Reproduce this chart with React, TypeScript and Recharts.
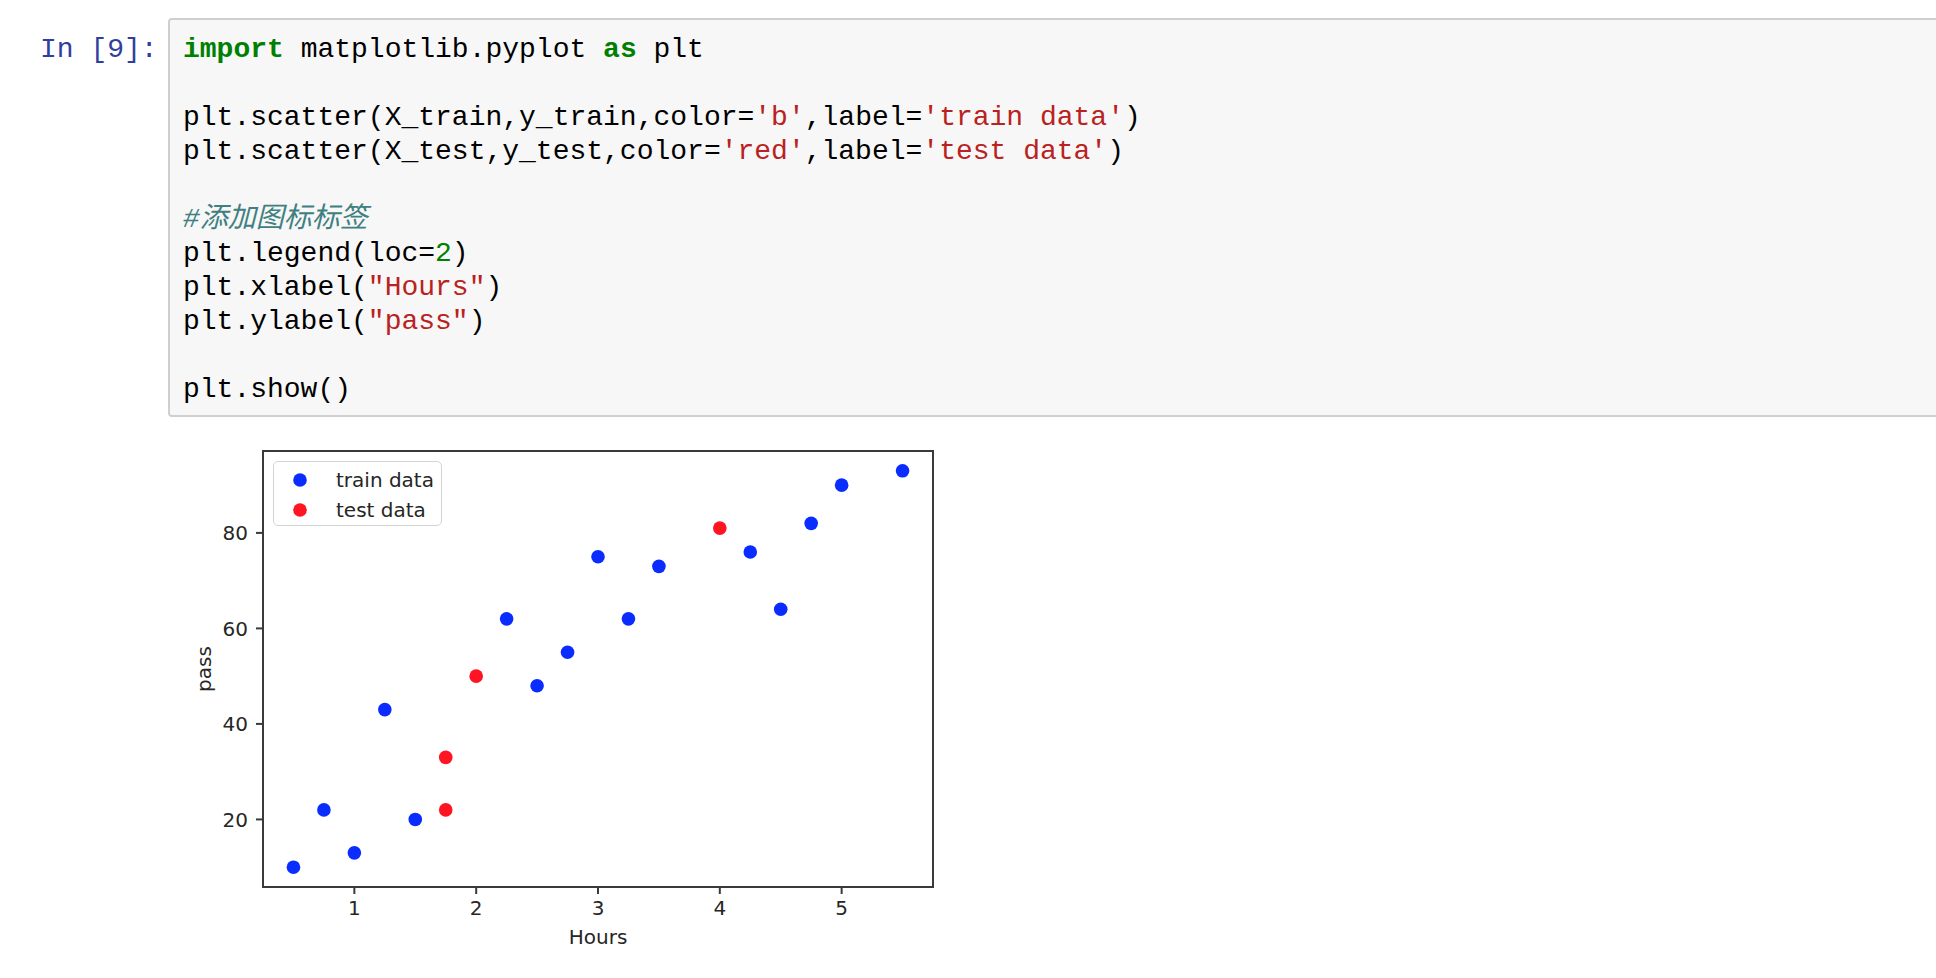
import React from 'react';
import {
  ScatterChart,
  Scatter,
  XAxis,
  YAxis,
  Legend,
  ReferenceArea,
} from 'recharts';

// data
const trainHours = [0.5, 0.75, 1, 1.25, 1.5, 2.25, 2.5, 2.75, 3, 3.25, 3.5, 4.25, 4.5, 4.75, 5, 5.5];
const trainPass = [10, 22, 13, 43, 20, 62, 48, 55, 75, 62, 73, 76, 64, 82, 90, 93];
const testHours = [1.75, 1.75, 2, 4];
const testPass = [22, 33, 50, 81];

const seriesNames = ['train data', 'test data'];
const xTicks = [1, 2, 3, 4, 5];
const yTicks = [20, 40, 60, 80];
const xDomain: [number, number] = [0.25, 5.75];
const yDomain: [number, number] = [5.85, 97.15];

const trainData = trainHours.map((h, i) => ({ hours: h, pass: trainPass[i] }));
const testData = testHours.map((h, i) => ({ hours: h, pass: testPass[i] }));

type Tok = '' | 'kw' | 'str' | 'num' | 'cm';

const codeLines: [string, Tok][][] = [
  [['import', 'kw'], [' matplotlib.pyplot ', ''], ['as', 'kw'], [' plt', '']],
  [],
  [['plt.scatter(X_train,y_train,color=', ''], ["'b'", 'str'], [',label=', ''], ["'train data'", 'str'], [')', '']],
  [['plt.scatter(X_test,y_test,color=', ''], ["'red'", 'str'], [',label=', ''], ["'test data'", 'str'], [')', '']],
  [],
  [['#添加图标标签', 'cm']],
  [['plt.legend(loc=', ''], ['2', 'num'], [')', '']],
  [['plt.xlabel(', ''], ['"Hours"', 'str'], [')', '']],
  [['plt.ylabel(', ''], ['"pass"', 'str'], [')', '']],
  [],
  [['plt.show()', '']],
];

const tokStyle: Record<Tok, React.CSSProperties> = {
  '': { color: '#000' },
  kw: { color: '#008000', fontWeight: 'bold' },
  str: { color: '#BA2121' },
  num: { color: '#008000' },
  cm: { color: '#408080', fontStyle: 'italic' },
};

const mono = '"Liberation Mono", "Noto Sans CJK SC", monospace';
const axisFont = { fontFamily: 'DejaVu Sans', fontSize: 20, fill: '#262626' };
const spine = '#3a3a3a';

function Dot(props: any) {
  return <circle cx={props.cx} cy={props.cy} r={6.8} fill={props.fill} />;
}

function LegendBox({ payload }: any) {
  const items = [...(payload || [])].sort(
    (a: any, b: any) => seriesNames.indexOf(a.value) - seriesNames.indexOf(b.value)
  );
  return (
    <div
      style={{
        width: 169,
        height: 65,
        boxSizing: 'border-box',
        border: '1.5px solid #d4d4d4',
        borderRadius: 5,
        background: 'rgba(255,255,255,0.8)',
        position: 'relative',
        fontFamily: 'DejaVu Sans',
        fontSize: 20,
        color: '#262626',
      }}
    >
      {items.map((p: any, i: number) => (
        <div
          key={p.value}
          style={{ position: 'absolute', left: 0, top: 3 + i * 29.7, height: 30, display: 'flex', alignItems: 'center' }}
        >
          <svg width={62} height={30}>
            <circle cx={26} cy={15} r={6.8} fill={p.color ?? p.payload?.fill} />
          </svg>
          <span>{p.value}</span>
        </div>
      ))}
    </div>
  );
}

export default function App() {
  return (
    <div
      style={{
        position: 'absolute',
        left: 0,
        top: 0,
        width: 1936,
        height: 978,
        overflow: 'hidden',
        background: '#fff',
      }}
    >
      <div
        style={{
          position: 'absolute',
          left: 40,
          top: 33,
          fontFamily: mono,
          fontSize: 28,
          lineHeight: '34px',
          color: '#303F9F',
          whiteSpace: 'pre',
        }}
      >
        In [9]:
      </div>
      <div
        style={{
          position: 'absolute',
          left: 168,
          top: 18,
          width: 1800,
          height: 399,
          boxSizing: 'border-box',
          border: '2px solid #cfcfcf',
          borderRadius: 4,
          background: '#f7f7f7',
        }}
      />
      <div style={{ position: 'absolute', left: 183, top: 33, fontFamily: mono, fontSize: 28 }}>
        {codeLines.map((line, i) => (
          <div key={i} style={{ height: 34, lineHeight: '34px', whiteSpace: 'pre' }}>
            {line.length === 0
              ? ' '
              : line.map(([t, k], j) => (
                  <span key={j} style={tokStyle[k]}>
                    {t}
                  </span>
                ))}
          </div>
        ))}
      </div>

      <div style={{ position: 'absolute', left: 150, top: 430 }}>
        <ScatterChart width={800} height={540} margin={{ top: 21, right: 17, bottom: 23, left: 0 }}>
          <XAxis
            type="number"
            dataKey="hours"
            domain={xDomain}
            ticks={xTicks}
            allowDataOverflow
            height={60}
            axisLine={false}
            tickLine={{ stroke: spine, strokeWidth: 2 }}
            tickSize={7}
            tickMargin={7}
            tick={axisFont}
            label={{ value: 'Hours', position: 'insideBottom', offset: 3, ...axisFont }}
          />
          <YAxis
            type="number"
            dataKey="pass"
            domain={yDomain}
            ticks={yTicks}
            allowDataOverflow
            width={113}
            axisLine={false}
            tickLine={{ stroke: spine, strokeWidth: 2 }}
            tickSize={7}
            tickMargin={8}
            tick={axisFont}
            label={{ value: 'pass', angle: -90, position: 'center', dx: -3, ...axisFont }}
          />
          <ReferenceArea
            x1={xDomain[0]}
            x2={xDomain[1]}
            y1={yDomain[0]}
            y2={yDomain[1]}
            fill="none"
            fillOpacity={0}
            stroke={spine}
            strokeWidth={2}
            ifOverflow="visible"
          />
          <Legend
            layout="vertical"
            align="center"
            verticalAlign="middle"
            content={<LegendBox />}
            wrapperStyle={{ left: 123, top: 31, width: 169, height: 65 }}
          />
          <Scatter name="train data" data={trainData} fill="#0a2cff" shape={Dot} isAnimationActive={false} />
          <Scatter name="test data" data={testData} fill="#ff1424" shape={Dot} isAnimationActive={false} />
        </ScatterChart>
      </div>
    </div>
  );
}
